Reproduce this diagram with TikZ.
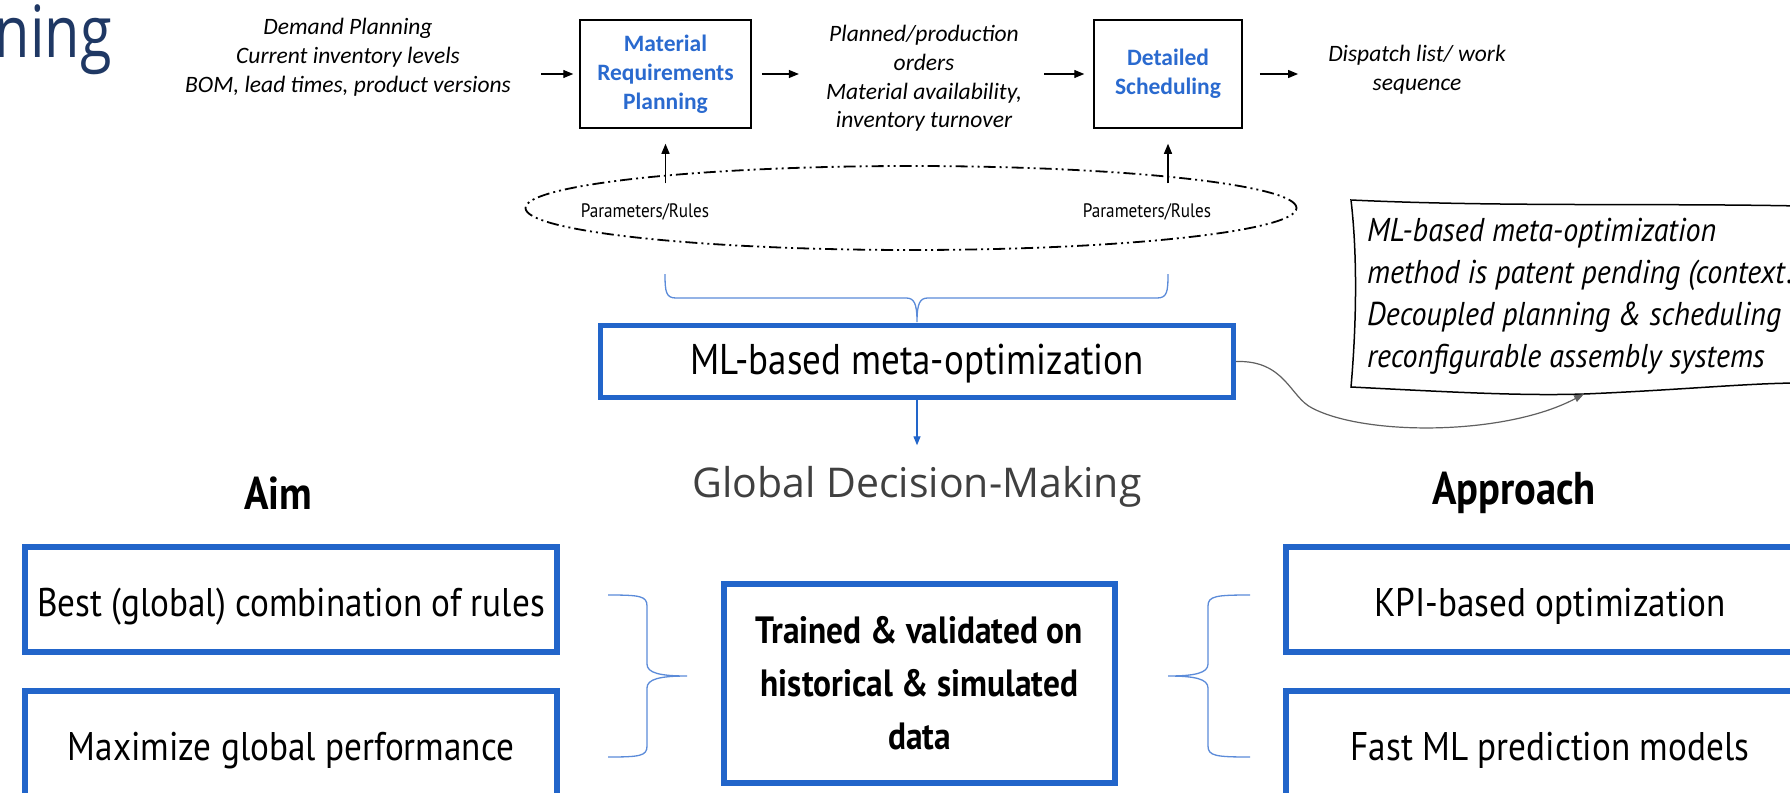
\documentclass[tikz,border=0pt]{standalone}
\usepackage{fontspec}
\usetikzlibrary{arrows.meta,shapes.geometric,calc}
\newfontfamily\calfont{Carlito}
\newfontfamily\condfont[FakeStretch=0.88]{PT Sans}
\newfontfamily\mlfont[FakeStretch=0.86]{PT Sans}
\newfontfamily\notefont[FakeStretch=0.91]{PT Sans}
\newfontfamily\osfont{Open Sans}
\newfontfamily\titlefont[FakeStretch=0.8]{Open Sans}
\definecolor{boxblue}{HTML}{2265CA}
\definecolor{txtblue}{HTML}{2A6ACF}
\definecolor{braceblue}{HTML}{5B8BD9}
\definecolor{gdmgray}{HTML}{404040}
\definecolor{navy}{HTML}{1F3864}
\definecolor{linkgray}{HTML}{606060}
\begin{document}
\begin{tikzpicture}[x=1pt,y=-1pt,
  arr/.style={draw=black,line width=1.2pt,-{Triangle[length=10pt,width=8pt]}},
  barr/.style={draw=boxblue,line width=1.2pt,-{Triangle[length=9pt,width=7pt]}},
  garr/.style={draw=linkgray,line width=1.2pt,-{Triangle[length=10pt,width=7pt]}},
  intext/.style={inner sep=0pt,align=center,font=\calfont\itshape\fontsize{23.5}{28.8}\selectfont},
  topbox/.style={draw=black,line width=1.5pt,inner sep=0pt,align=center,text=txtblue,font=\calfont\bfseries\fontsize{23.5}{28.8}\selectfont},
  prtext/.style={inner sep=0pt,font=\condfont\fontsize{19.5}{19.5}\selectfont},
  ddd/.style={line width=1.8pt,dash pattern=on 12pt off 4pt on 2pt off 4pt on 2pt off 4pt},
  bbox/.style={draw=boxblue,line width=6pt,inner sep=0pt,align=center,font=\condfont\fontsize{40}{40}\selectfont},
  sbox/.style={bbox,text height=34pt,text depth=0pt},
  headstyle/.style={inner sep=0pt,font=\condfont\bfseries\fontsize{46}{46}\selectfont},
  bracestyle/.style={draw=braceblue,line width=1.3pt}]
\clip (0,0) rectangle (1790,792);
\fill[white] (0,0) rectangle (1790,792);

% title fragment
\node[anchor=base east,inner sep=0pt,text=navy,font=\titlefont\fontsize{72}{72}\selectfont] (title) at (112,57) {ning};

% top row
\node[intext] (inp) at (348,57) {Demand Planning\\Current inventory levels\\BOM, lead times, product versions};
\node[topbox,minimum width=171pt,minimum height=108pt] (mrp) at (665.5,74) {Material\\Requirements\\Planning};
\node[intext] (mid) at (924,78.5) {Planned/production\\orders\\Material availability,\\inventory turnover};
\node[topbox,minimum width=148pt,minimum height=108pt] (ds) at (1168,74) {Detailed\\Scheduling};
\node[intext] (disp) at (1417,70) {Dispatch list/ work\\sequence};

\draw[arr,shorten <=30pt,shorten >=6pt] (inp.east |- mrp.west) -- (mrp.west);
\draw[arr,shorten <=10pt,shorten >=27pt] (mrp.east) -- (mid.west |- mrp.east);
\draw[arr,shorten <=22pt,shorten >=9pt] (mid.east |- ds.west) -- (ds.west);
\draw[arr,shorten <=17pt,shorten >=30pt] (ds.east) -- (disp.west |- ds.east);

% ellipse with parameters
\node[ellipse,draw,ddd,minimum width=771pt,minimum height=84pt,inner sep=0pt] (ell) at (911,208) {};
\node[prtext] (pr1) at (645,212) {Parameters/Rules};
\node[prtext] (pr2) at (1147,212) {Parameters/Rules};
\draw[arr,shorten <=20pt,shorten >=15pt] (pr1.north -| mrp.south) -- (mrp.south);
\draw[arr,shorten <=20pt,shorten >=15pt] (pr2.north -| ds.south) -- (ds.south);

% brace under ellipse
\draw[bracestyle] (665,274) .. controls (665,292) and (666,298) .. (676,298) -- (906,298)
  .. controls (914,298) and (917,303) .. (917,322)
  .. controls (917,303) and (920,298) .. (928,298) -- (1157,298)
  .. controls (1167,298) and (1168,292) .. (1168,274);

% ML box
\node[bbox,line width=5pt,minimum width=633pt,minimum height=72pt,text height=26pt,text depth=0pt,font=\mlfont\fontsize{43}{43}\selectfont] (ml) at (917,361.5) {ML-based meta-optimization};
\node[inner sep=0pt,text=gdmgray,font=\osfont\fontsize{41}{41}\selectfont] (gdm) at (917,487) {Global Decision-Making};
\draw[barr,shorten >=21pt] (ml.south) -- (gdm.north);

% note
\draw[line width=1.5pt,fill=white] (1351,200) .. controls (1500,207) and (1650,203) .. (1800,206)
  -- (1800,383) .. controls (1750,383) and (1680,390) .. (1584,394)
  .. controls (1520,396) and (1450,392) .. (1351,387)
  .. controls (1356,330) and (1358,260) .. (1351,200) -- cycle;
\node[anchor=west,inner sep=0pt,align=left,font=\notefont\itshape\fontsize{33}{42}\selectfont] (note) at (1367,296.5)
  {ML-based meta-optimization\\method is patent pending (context:\\Decoupled planning \& scheduling in\\reconfigurable assembly systems};
\coordinate (notept) at (1584,394);
\draw[garr] (ml.east) .. controls (1285,360) and (1290,397) .. (1312,408)
  .. controls (1365,436) and (1505,436) .. (notept);

% headings
\node[headstyle] (aim) at (278,493) {Aim};
\node[headstyle] (appr) at (1514,493) {Approach};

% bottom boxes
\node[sbox,minimum width=532pt,minimum height=105pt] (aim1) at (291,599.5) {Best (global) combination of rules};
\node[sbox,minimum width=532pt,minimum height=105pt] (aim2) at (291,743.5) {Maximize global performance};
\node[sbox,minimum width=528pt,minimum height=105pt] (ap1) at (1550,599.5) {KPI-based optimization};
\node[sbox,minimum width=528pt,minimum height=105pt] (ap2) at (1550,743.5) {Fast ML prediction models};
\node[bbox,minimum width=391pt,minimum height=199pt,font=\condfont\bfseries\fontsize{38}{53}\selectfont] (ctr) at (919.5,683)
  {Trained \& validated on\\historical \& simulated\\data};

% braces
\draw[bracestyle] (608,595) .. controls (640,595) and (647,596) .. (647,606) -- (647,664)
  .. controls (647,673) and (660,676) .. (687,676)
  .. controls (660,676) and (647,679) .. (647,688) -- (647,746)
  .. controls (647,756) and (640,757) .. (608,757);
\draw[bracestyle] (1250,595) .. controls (1216,595) and (1208,596) .. (1208,606) -- (1208,664)
  .. controls (1208,673) and (1195,676) .. (1168,676)
  .. controls (1195,676) and (1208,679) .. (1208,688) -- (1208,746)
  .. controls (1208,756) and (1216,757) .. (1250,757);
\end{tikzpicture}
\end{document}
